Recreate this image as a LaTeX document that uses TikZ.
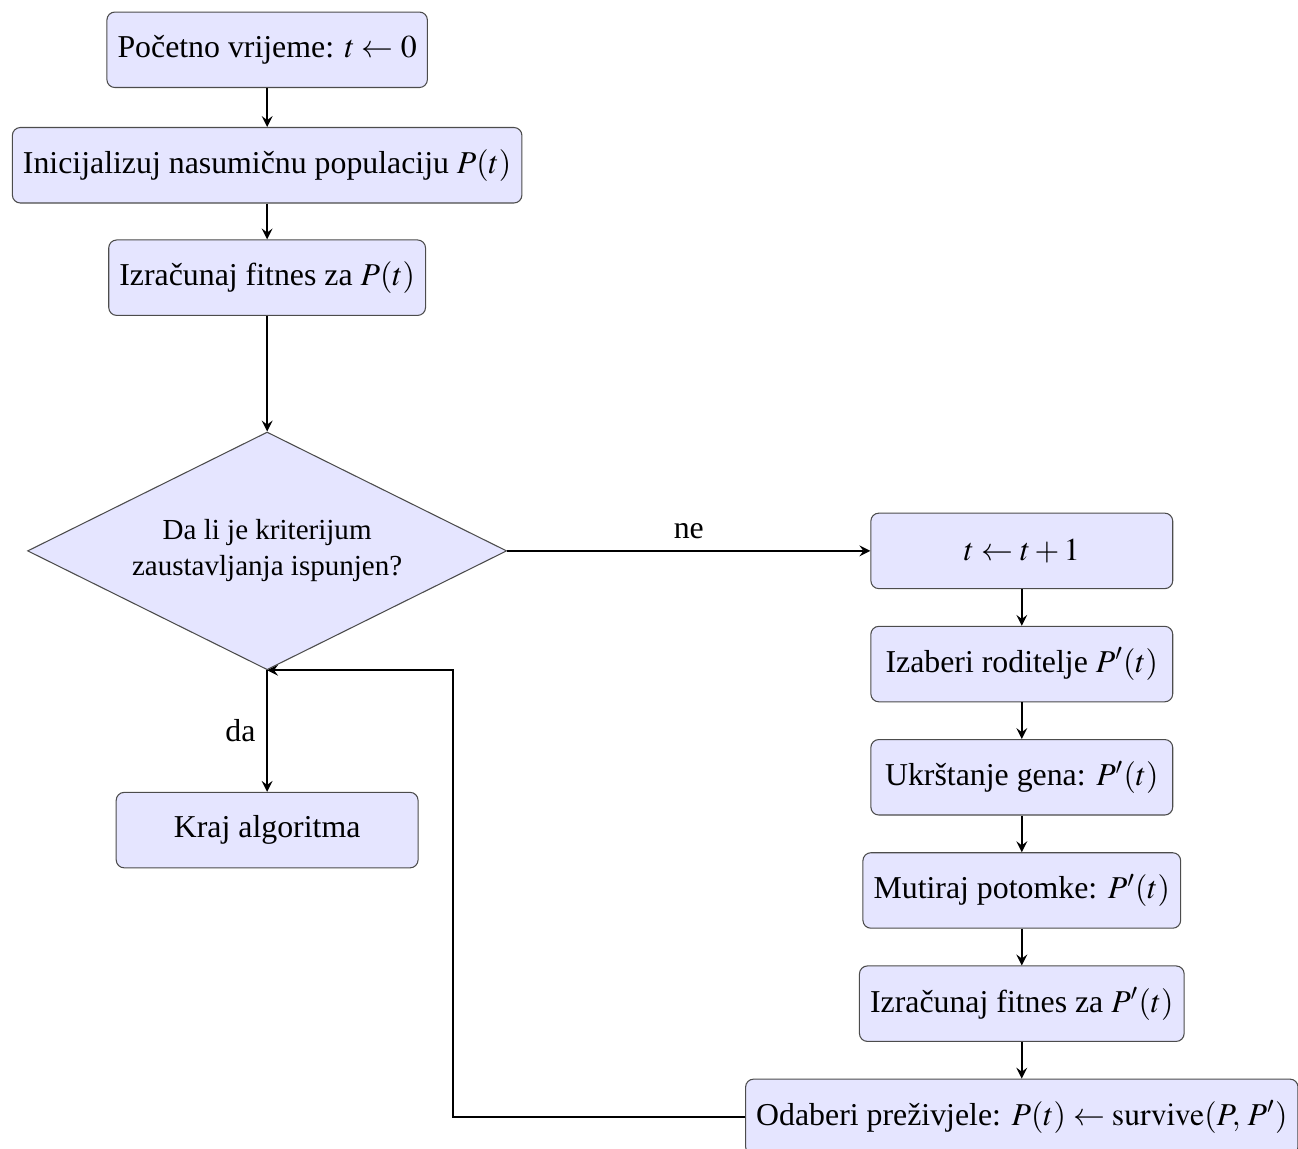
\documentclass[tikz,border=0pt,12pt]{standalone}
\usepackage{mathptmx}
\usepackage{fontspec}
\setmainfont{Liberation Serif}
\usepackage{tikz}
\usetikzlibrary{positioning,arrows,shapes.geometric}

\begin{document}
\begin{tikzpicture}[
  >=stealth,
  box/.style={
    draw=black!70, fill=blue!10, rounded corners=3pt,
    align=center, minimum width=4cm, minimum height=1cm
  },
  decision/.style={
    diamond, draw=black!70, fill=blue!10, aspect=2, align=center,
    font=\small, minimum width=6.35cm, minimum height=3.15cm, inner sep=0pt
  },
  arrow/.style={->, thick}
]
\useasboundingbox (-3.54,-7.92) rectangle (13.66,7.30);
% left column
\node[box] (start) at (0, 6.64) {Početno vrijeme: $t \leftarrow 0$};
\node[box] (init) at (0, 5.11) {Inicijalizuj nasumičnu populaciju $P(t)$};
\node[box] (fit) at (0, 3.62) {Izračunaj fitnes za $P(t)$};
\node[decision] (dec) at (0, 0) {Da li je kriterijum\\zaustavljanja ispunjen?};
\node[box] (kraj) at (0, -3.70) {Kraj algoritma};
% right column
\node[box] (tinc) at (10, 0) {$t \leftarrow t + 1$};
\node[box] (sel) at (10, -1.5) {Izaberi roditelje $P'(t)$};
\node[box] (cross) at (10, -3.0) {Ukrštanje gena: $P'(t)$};
\node[box] (mut) at (10, -4.5) {Mutiraj potomke: $P'(t)$};
\node[box] (fit2) at (10, -6.0) {Izračunaj fitnes za $P'(t)$};
\node[box] (surv) at (10, -7.5) {Odaberi preživjele: $P(t) \leftarrow \mathrm{survive}(P,\, P')$};

\draw[arrow] (start) -- (init);
\draw[arrow] (init) -- (fit);
\draw[arrow] (fit) -- (dec);
\draw[arrow] (dec.south) -- node[left] {da} (kraj);
\draw[arrow] (dec.east) -- node[above] {ne} (tinc);
\draw[arrow] (tinc) -- (sel);
\draw[arrow] (sel) -- (cross);
\draw[arrow] (cross) -- (mut);
\draw[arrow] (mut) -- (fit2);
\draw[arrow] (fit2) -- (surv);
\draw[arrow] (surv.west) -| ([xshift=2.46cm]dec.south) -- (dec.south);
\end{tikzpicture}
\end{document}
